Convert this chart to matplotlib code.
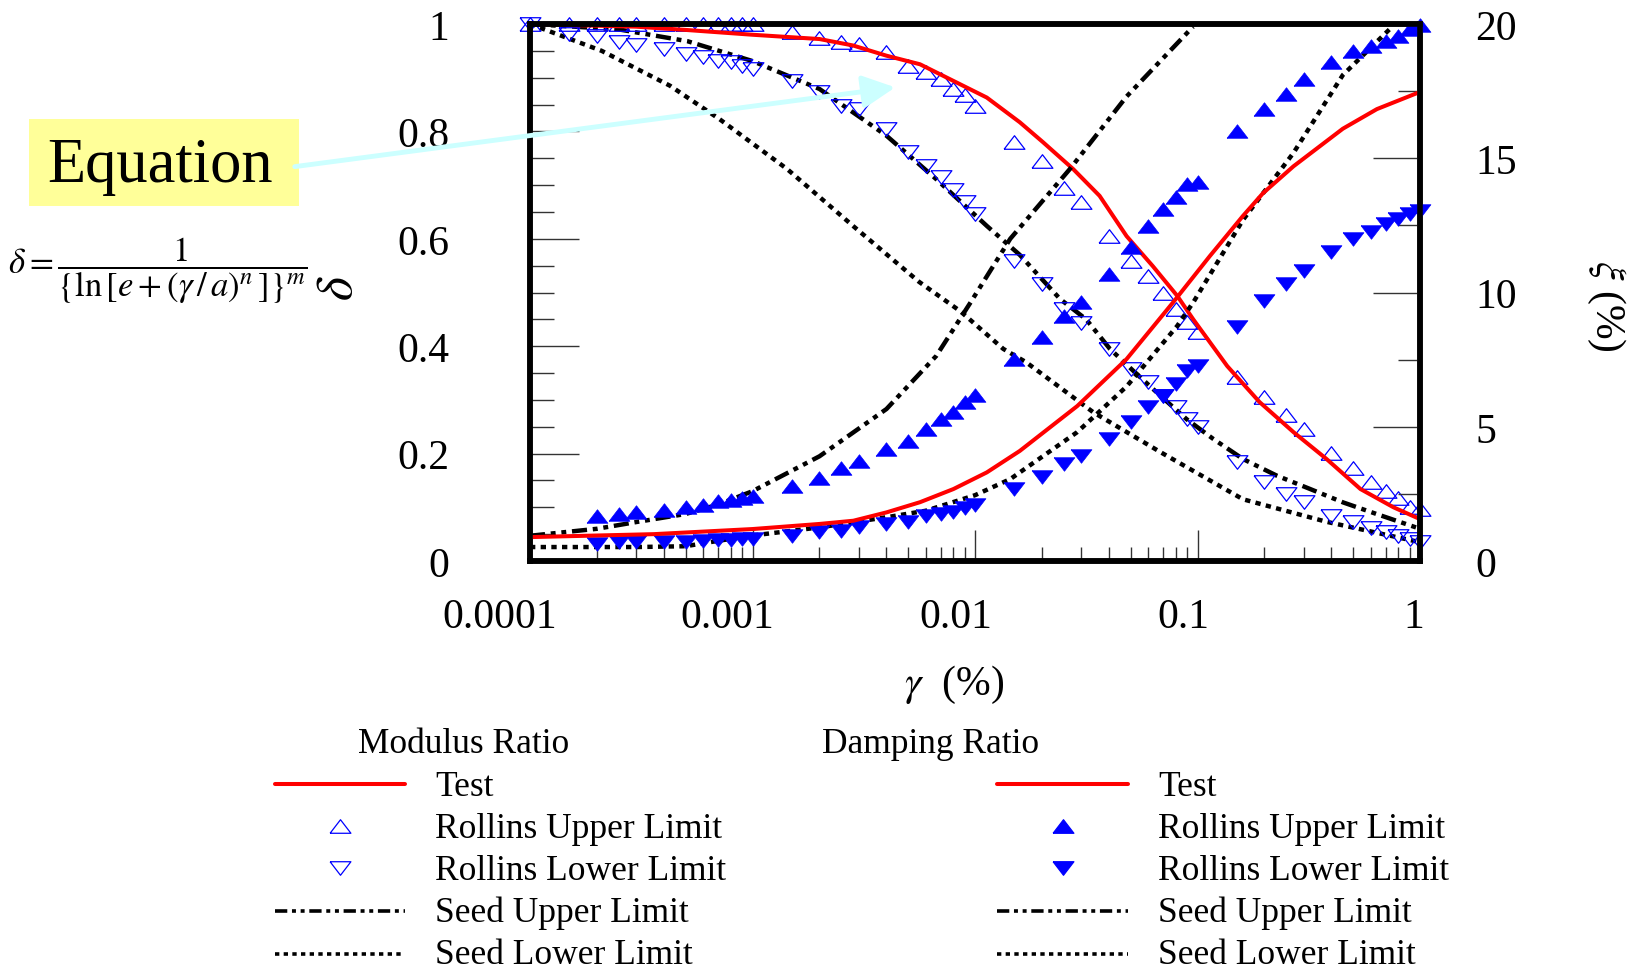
import numpy as np
import matplotlib
matplotlib.use('Agg')
import matplotlib.pyplot as plt
from matplotlib.ticker import LogLocator, NullFormatter, MultipleLocator
from matplotlib.patches import FancyArrowPatch, Rectangle

# ---------------- data ----------------
# Test (fitted) curves
test_mod_x = [1e-4, 3e-4, 5e-4, 1e-3, 2e-3, 2.83e-3, 4e-3, 5.66e-3, 8e-3, 0.0113, 0.0159, 0.0202,
              0.0276, 0.0363, 0.048, 0.063, 0.081, 0.0957, 0.136, 0.19, 0.27, 0.38, 0.54, 0.76, 1.0]
test_mod_y = [1.0, 0.995, 0.989, 0.98, 0.972, 0.96, 0.941, 0.925, 0.894, 0.863, 0.817, 0.78,
              0.73, 0.68, 0.605, 0.549, 0.494, 0.45, 0.363, 0.296, 0.24, 0.19, 0.134, 0.10, 0.078]

test_damp_x = [1e-4, 3.6e-4, 1e-3, 2e-3, 2.84e-3, 4e-3, 5.66e-3, 8e-3, 0.0113, 0.0159, 0.0288,
               0.048, 0.078, 0.1137, 0.16, 0.197, 0.27, 0.45, 0.64, 1.0]
test_damp_y = [0.89, 1.0, 1.19, 1.38, 1.5, 1.81, 2.19, 2.68, 3.3, 4.1, 5.77,
               7.52, 9.65, 11.36, 12.85, 13.7, 14.7, 16.1, 16.83, 17.47]

# Seed et al. bounds
seed_up_mod_x = [1e-4, 2.5e-4, 5.1e-4, 1e-3, 2e-3, 4e-3, 6.7e-3, 0.0113, 0.0159, 0.0241, 0.0316,
                 0.0404, 0.0515, 0.068, 0.0894, 0.118, 0.16, 0.227, 0.321, 0.452, 0.638, 1.0]
seed_up_mod_y = [1.0, 0.99, 0.968, 0.931, 0.879, 0.792, 0.711, 0.624, 0.57, 0.488, 0.45,
                 0.395, 0.354, 0.308, 0.264, 0.227, 0.19, 0.159, 0.134, 0.109, 0.0875, 0.06]

seed_lo_mod_x = [1e-4, 2.1e-4, 4.26e-4, 7.1e-4, 1.43e-3, 2.83e-3, 5.6e-3, 0.0086, 0.0134, 0.017,
                 0.034, 0.068, 0.16, 0.38, 1.0]
seed_lo_mod_y = [1.0, 0.95, 0.885, 0.823, 0.73, 0.624, 0.52, 0.465, 0.395, 0.37,
                 0.277, 0.203, 0.115, 0.073, 0.035]

seed_up_damp_x = [1e-4, 2e-4, 3e-4, 5e-4, 7e-4, 1e-3, 2e-3, 4e-3, 6.7e-3, 0.0095, 0.0144,
                  0.0267, 0.048, 0.0955]
seed_up_damp_y = [0.94, 1.2, 1.45, 1.75, 2.1, 2.6, 3.9, 5.66, 7.64, 9.6, 12.0,
                  14.6, 17.3, 19.9]

seed_lo_damp_x = [1e-4, 3e-4, 5e-4, 7e-4, 1e-3, 2e-3, 4e-3, 6e-3, 0.01, 0.0144, 0.0159, 0.0288,
                  0.048, 0.081, 0.096, 0.16, 0.27, 0.45, 0.75]
seed_lo_damp_y = [0.52, 0.52, 0.55, 0.75, 0.95, 1.25, 1.63, 1.87, 2.45, 3.05, 3.3, 4.8,
                  6.5, 8.75, 9.65, 12.7, 15.2, 18.1, 19.9]

# Rollins et al. bounds (points)
rollins_mod_x = [1e-4, 1.5e-4, 2e-4, 2.5e-4, 3e-4, 4e-4, 5e-4, 6e-4, 7e-4, 8e-4, 9e-4, 1e-3,
                 1.5e-3, 2e-3, 2.5e-3, 3e-3, 4e-3, 5e-3, 6e-3, 7e-3, 8e-3, 9e-3, 0.01,
                 0.015, 0.02, 0.025, 0.03, 0.04, 0.05, 0.06, 0.07, 0.08, 0.09, 0.1,
                 0.15, 0.2, 0.25, 0.3, 0.4, 0.5, 0.6, 0.7, 0.8, 0.9, 1.0]
rollins_mod_up = [1.0, 1.0, 1.0, 1.0, 1.0, 1.0, 1.0, 1.0, 1.0, 1.0, 1.0, 1.0,
                  0.985, 0.973, 0.966, 0.963, 0.947, 0.922, 0.91, 0.898, 0.879, 0.868, 0.848,
                  0.78, 0.744, 0.695, 0.668, 0.606, 0.559, 0.531, 0.50, 0.469, 0.445, 0.426,
                  0.342, 0.305, 0.271, 0.246, 0.202, 0.174, 0.148, 0.13, 0.117, 0.10, 0.096]
rollins_mod_lo = [1.0, 0.981, 0.978, 0.966, 0.96, 0.953, 0.944, 0.938, 0.932, 0.929, 0.922, 0.916,
                  0.894, 0.873, 0.848, 0.842, 0.804, 0.761, 0.736, 0.715, 0.69, 0.668, 0.646,
                  0.559, 0.516, 0.469, 0.444, 0.395, 0.358, 0.333, 0.308, 0.286, 0.264, 0.249,
                  0.184, 0.147, 0.125, 0.11, 0.084, 0.073, 0.061, 0.054, 0.047, 0.041, 0.035]

rollins_damp_x = [2e-4, 2.5e-4, 3e-4, 4e-4, 5e-4, 6e-4, 7e-4, 8e-4, 9e-4, 1e-3,
                  1.5e-3, 2e-3, 2.5e-3, 3e-3, 4e-3, 5e-3, 6e-3, 7e-3, 8e-3, 9e-3, 0.01,
                  0.015, 0.02, 0.025, 0.03, 0.04, 0.05, 0.06, 0.07, 0.08, 0.09, 0.1,
                  0.15, 0.2, 0.25, 0.3, 0.4, 0.5, 0.6, 0.7, 0.8, 0.9, 1.0]
rollins_damp_up = [1.69, 1.75, 1.81, 1.91, 2.0, 2.1, 2.25, 2.28, 2.33, 2.41,
                   2.8, 3.09, 3.46, 3.71, 4.17, 4.48, 4.92, 5.29, 5.56, 5.91, 6.18,
                   7.52, 8.33, 9.14, 9.64, 10.69, 11.68, 12.49, 13.11, 13.55, 14.04, 14.1,
                   16.03, 16.83, 17.39, 17.95, 18.57, 19.0, 19.19, 19.38, 19.57, 19.81, 19.96]
rollins_damp_lo = [0.63, 0.70, 0.72, 0.70, 0.72, 0.76, 0.78, 0.80, 0.82, 0.82,
                   0.94, 1.07, 1.13, 1.25, 1.38, 1.46, 1.66, 1.75, 1.84, 1.96, 2.09,
                   2.68, 3.12, 3.61, 3.92, 4.54, 5.17, 5.72, 6.16, 6.59, 7.09, 7.28,
                   8.7, 9.7, 10.32, 10.81, 11.5, 11.99, 12.24, 12.55, 12.74, 12.92, 13.05]

x_ticks = [1e-4, 1e-3, 1e-2, 1e-1, 1.0]
x_ticklabels = ['0.0001', '0.001', '0.01', '0.1', '1']
left_ticks = [0, 0.2, 0.4, 0.6, 0.8, 1.0]
left_ticklabels = ['0', '0.2', '0.4', '0.6', '0.8', '1']
right_ticks = [0, 5, 10, 15, 20]
right_ticklabels = ['0', '5', '10', '15', '20']

legend_labels = ['Test', 'Rollins Upper Limit', 'Rollins Lower Limit',
                 'Seed Upper Limit', 'Seed Lower Limit']

# ---------------- style ----------------
plt.rcParams['font.family'] = ['Liberation Serif', 'DejaVu Serif']
plt.rcParams['mathtext.fontset'] = 'stix'

W, H = 1628, 970
fig = plt.figure(figsize=(W / 100, H / 100), dpi=100)
ax = fig.add_axes([530 / W, 1 - 562 / H, 890 / W, 537 / H])
ax2 = ax.twinx()

RED = '#ff0000'
BLUE = '#0000ff'
tri_up = [(-1, -0.65), (1, -0.65), (0, 0.65), (-1, -0.65)]
tri_dn = [(-1, 0.65), (1, 0.65), (0, -0.65), (-1, 0.65)]
MS = 15
dashdotdot = (0, (3.4, 1.3, 1.1, 1.3, 1.1, 1.3))
dotted = (0, (1.2, 1.2))
LW_BLK = 3.2
LW_RED = 2.9

# modulus (left axis)
ax.plot(seed_lo_mod_x, seed_lo_mod_y, color='k', lw=LW_BLK, ls=dotted, zorder=2)
ax.plot(seed_up_mod_x, seed_up_mod_y, color='k', lw=LW_BLK, ls=dashdotdot, zorder=2)
ax.plot(rollins_mod_x, rollins_mod_up, ls='none', marker=tri_up, ms=MS, mfc='none',
        mec=BLUE, mew=0.9, clip_on=False, zorder=3)
ax.plot(rollins_mod_x, rollins_mod_lo, ls='none', marker=tri_dn, ms=MS, mfc='none',
        mec=BLUE, mew=0.9, clip_on=False, zorder=3)
ax.plot(test_mod_x, test_mod_y, color=RED, lw=LW_RED, zorder=4, solid_capstyle='round',
        solid_joinstyle='round')

# damping (right axis)
ax2.plot(seed_lo_damp_x, seed_lo_damp_y, color='k', lw=LW_BLK, ls=dotted, zorder=2)
ax2.plot(seed_up_damp_x, seed_up_damp_y, color='k', lw=LW_BLK, ls=dashdotdot, zorder=2)
ax2.plot(rollins_damp_x, rollins_damp_up, ls='none', marker=tri_up, ms=MS, mfc=BLUE,
         mec=BLUE, mew=0.5, clip_on=False, zorder=3)
ax2.plot(rollins_damp_x, rollins_damp_lo, ls='none', marker=tri_dn, ms=MS, mfc=BLUE,
         mec=BLUE, mew=0.5, clip_on=False, zorder=3)
ax2.plot(test_damp_x, test_damp_y, color=RED, lw=LW_RED, zorder=4, solid_capstyle='round',
         solid_joinstyle='round')

# axes
ax.set_xscale('log')
ax.set_xlim(1e-4, 1.0)
ax.set_ylim(0, 1)
ax2.set_ylim(0, 20)

TFS = 30
TC = '#333333'
ax.set_xticks(x_ticks)
ax.xaxis.set_minor_locator(LogLocator(base=10, subs=np.arange(2, 10)))
ax.xaxis.set_minor_formatter(NullFormatter())
ax.set_yticks(left_ticks, left_ticklabels)
ax.yaxis.set_minor_locator(MultipleLocator(0.05))
ax2.set_yticks(right_ticks, right_ticklabels)
ax2.yaxis.set_minor_locator(MultipleLocator(2.5))

ax.tick_params(axis='x', which='major', direction='in', length=22, width=1.0, color=TC,
               labelbottom=False, top=False)
ax.tick_params(axis='x', which='minor', direction='in', length=10, width=1.0, color=TC, top=False)
ax.tick_params(axis='y', which='major', direction='in', length=35, width=1.0, color=TC,
               labelsize=TFS, pad=58, right=False)
ax.tick_params(axis='y', which='minor', direction='in', length=17, width=1.0, color=TC, right=False)
ax2.tick_params(axis='y', which='major', direction='in', length=34, width=1.0, color=TC,
                labelsize=TFS, pad=40, left=False)
ax2.tick_params(axis='y', which='minor', direction='in', length=16, width=1.0, color=TC, left=False)

# x tick labels: offset to the left by a quarter of their width, as in the reference
for xv, lbl in zip(x_ticks, x_ticklabels):
    width_pt = TFS * (0.5 * sum(c.isdigit() for c in lbl) + 0.25 * lbl.count('.'))
    ax.annotate(lbl, xy=(xv, 0), xycoords=('data', 'axes fraction'),
                xytext=(-0.25 * width_pt - 1, -26), textcoords='offset points',
                ha='center', va='top', fontsize=TFS, annotation_clip=False)

for a in (ax, ax2):
    for s in a.spines.values():
        s.set_linewidth(4)
        s.set_color('k')
        s.set_zorder(5)

# axis labels
fig.text(954 / W, 1 - 685 / H, r'$\gamma$  (%)', fontsize=30, ha='center', va='center')
fig.text(340 / W, 1 - 288 / H, r'$\delta$', fontsize=37, rotation=90, ha='center', va='center')
fig.text(1606 / W, 1 - 306 / H, r'$\xi$ (%)', fontsize=30, rotation=270, ha='center', va='center')

# equation box and arrow
fig.add_artist(Rectangle((29 / W, 1 - 207 / H), 270 / W, 87 / H, transform=fig.transFigure,
                         facecolor='#ffff99', edgecolor='none', zorder=2))
fig.text(160 / W, 1 - 182 / H, 'Equation', fontsize=45, ha='center', va='baseline', zorder=3)
fig.text(158 / W, 1 - 271 / H,
         r'$\delta=\dfrac{1}{\left\{\ln\left[e+(\gamma\,/\,a)^{n}\,\right]\right\}^{m}}$',
         fontsize=25, ha='center', va='center')
fig.add_artist(FancyArrowPatch((292 / W, 1 - 168 / H), (898 / W, 1 - 88 / H),
                               transform=fig.transFigure,
                               arrowstyle='-|>,head_length=1.1,head_width=0.55',
                               mutation_scale=18, color='#ccffff', lw=3.5, zorder=6))

# legend (drawn in a full-figure overlay in pixel units)
lax = fig.add_axes([0, 0, 1, 1], zorder=10)
lax.set_xlim(0, W)
lax.set_ylim(H, 0)
lax.axis('off')
LFS = 25.5
row_y = [785, 827, 869, 912, 955]
base_y = [796, 838, 880, 922, 964]
for (hx0, hx1, tx, titx, title, filled) in [(275, 405, 435, 358, 'Modulus Ratio', False),
                                              (997, 1128, 1158, 822, 'Damping Ratio', True)]:
    lax.text(titx, 753, title, fontsize=LFS, ha='left', va='baseline')
    mx = hx0 + 0.5 * (hx1 - hx0)
    lax.plot([hx0, hx1], [row_y[0]] * 2, color=RED, lw=LW_RED, solid_capstyle='round')
    fc = BLUE if filled else 'none'
    lax.plot([mx], [row_y[1]], ls='none', marker=tri_up, ms=MS, mfc=fc, mec=BLUE, mew=0.9)
    lax.plot([mx], [row_y[2]], ls='none', marker=tri_dn, ms=MS, mfc=fc, mec=BLUE, mew=0.9)
    lax.plot([hx0, hx1], [row_y[3]] * 2, color='k', lw=2.6, ls=dashdotdot)
    lax.plot([hx0, hx1], [row_y[4]] * 2, color='k', lw=2.6, ls=dotted)
    for lbl, by in zip(legend_labels, base_y):
        lax.text(tx, by, lbl, fontsize=LFS, ha='left', va='baseline')

fig.savefig('out.png', dpi=100)
